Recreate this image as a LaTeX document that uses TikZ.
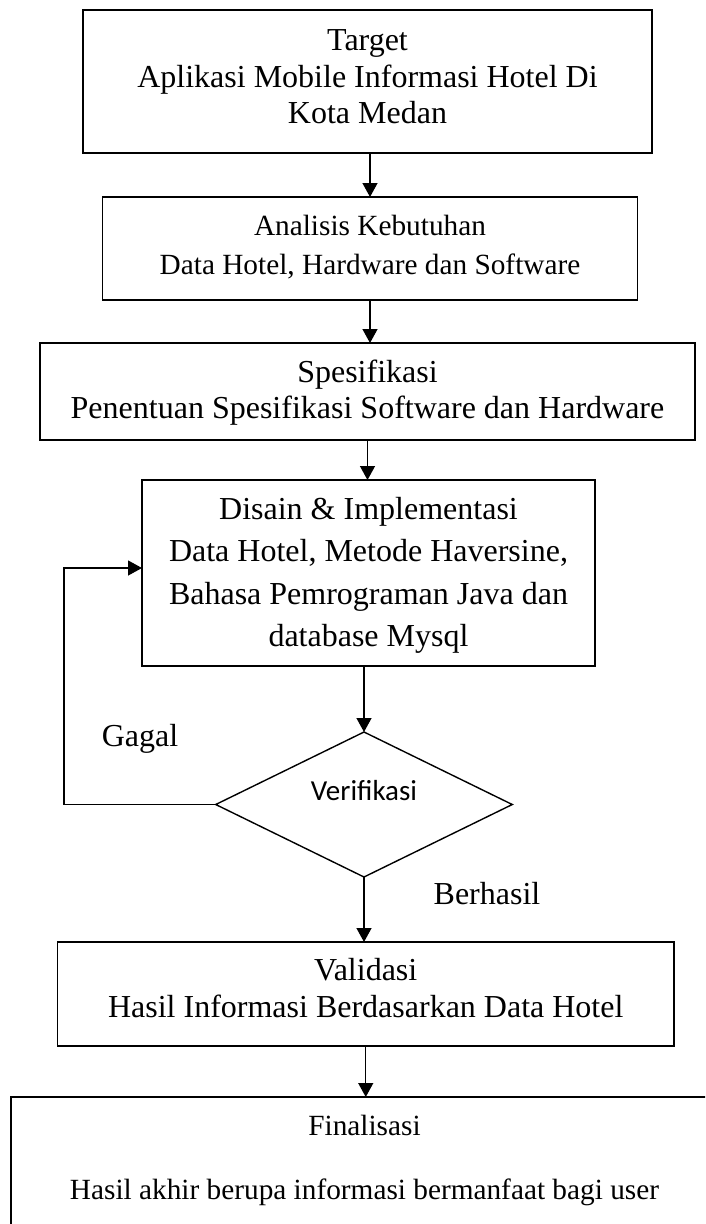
\documentclass[tikz,border=0pt]{standalone}
\usepackage{fontspec}
\setmainfont{Liberation Serif}
\newfontfamily\calibfont{Carlito}
\usetikzlibrary{shapes.geometric,arrows.meta}
\tikzset{
  box/.style={draw, line width=1.4pt, rectangle, inner sep=0pt, outer sep=0pt},
  dia/.style={draw, line width=1.4pt, diamond, inner sep=0pt, outer sep=0pt},
  big/.style={anchor=base, inner sep=0pt, font=\fontsize{32}{36}\selectfont},
  small/.style={anchor=base, inner sep=0pt, font=\fontsize{29.3}{34}\selectfont},
  sans/.style={anchor=base, inner sep=0pt, font=\calibfont\fontsize{29}{34}\selectfont},
  arr/.style={line width=1.3pt, -{Triangle[length=14pt,width=15pt]}}
}
\begin{document}
\begin{tikzpicture}[x=1pt,y=-1pt]
\useasboundingbox (0,0) rectangle (705,1224);
\clip (0,0) rectangle (705,1224);
% boxes
\node[box, minimum width=569pt, minimum height=143pt] (target) at (367.5,81.5) {};
\node[box, minimum width=535pt, minimum height=103pt] (analisis) at (370,248.5) {};
\node[box, minimum width=655pt, minimum height=97pt] (spes) at (367.5,391.5) {};
\node[box, minimum width=453pt, minimum height=186pt] (disain) at (368.5,573) {};
\node[dia, minimum width=296.5pt, minimum height=145pt] (verif) at (364,804.5) {};
\node[box, minimum width=616.5pt, minimum height=104pt] (valid) at (365.75,994) {};
\node[box, minimum width=707pt, minimum height=163pt] (final) at (364.5,1178.5) {};
% texts
\node[big] (t1) at (367.5,50.5) {Target};
\node[big] (t2) at (367.5,87) {Aplikasi Mobile Informasi Hotel Di};
\node[big] (t3) at (367.5,123.5) {Kota Medan};
\node[small] (a1) at (370,235) {Analisis Kebutuhan};
\node[small] (a2) at (370,274) {Data Hotel, Hardware dan Software};
\node[big] (s1) at (367.5,382.3) {Spesifikasi};
\node[big] (s2) at (367.5,418.3) {Penentuan Spesifikasi Software dan Hardware};
\node[big] (d1) at (368.5,519) {Disain \& Implementasi};
\node[big] (d2) at (368.5,561.5) {Data Hotel, Metode Haversine,};
\node[big] (d3) at (368.5,604) {Bahasa Pemrograman Java dan};
\node[big] (d4) at (368.5,646) {database Mysql};
\node[sans] (v1) at (364,800) {Verifikasi};
\node[big] (gagal) at (140,746) {Gagal};
\node[big] (berhasil) at (487,904) {Berhasil};
\node[big] (va1) at (365.75,980.7) {Validasi};
\node[big] (va2) at (365.75,1017.3) {Hasil Informasi Berdasarkan Data Hotel};
\node[small] (f1) at (364.5,1135) {Finalisasi};
\node[small] (f2) at (364.5,1199) {Hasil akhir berupa informasi bermanfaat bagi user};
% connectors
\draw[arr] (target.south -| analisis.north) -- (analisis.north);
\draw[arr] (analisis.south) -- (analisis.south |- spes.north);
\draw[arr] (spes.south) -- (spes.south |- disain.north);
\draw[arr] (disain.south -| verif.north) -- (verif.north);
\draw[arr] (verif.south) -- (verif.south |- valid.north);
\draw[arr] (valid.south) -- (valid.south |- final.north);
\coordinate (lp) at (64,568);
\draw[arr] (verif.west) -| (lp) -- (lp -| disain.west);
\end{tikzpicture}
\end{document}
